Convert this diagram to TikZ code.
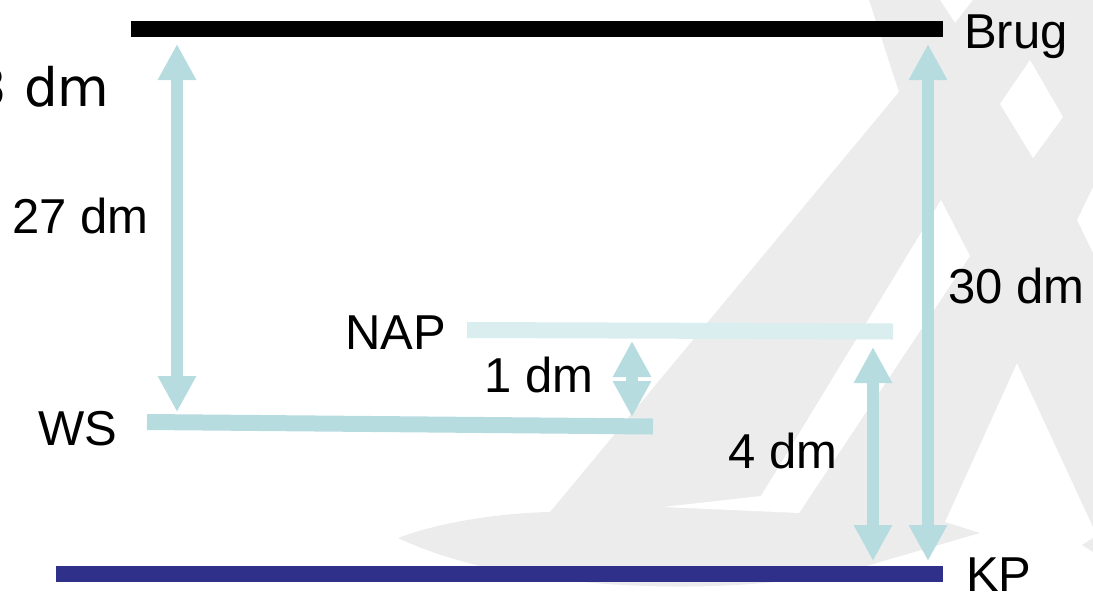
\documentclass[tikz,border=0pt]{standalone}
\usepackage{fontspec}
\setmainfont{Liberation Sans}
\newfontfamily\verafont{DejaVu Sans}
\usetikzlibrary{arrows.meta}
\definecolor{wmgray}{RGB}{236,236,236}
\definecolor{aqua}{RGB}{183,220,224}
\definecolor{aqualight}{RGB}{218,237,239}
\definecolor{kpblue}{RGB}{46,48,137}
\begin{document}
\begin{tikzpicture}[x=1pt,y=-1pt,
  bar/.style={line width=16pt},
  dimarrow/.style={aqua, line width=12pt,
    {Triangle[width=36pt,length=36pt]}-{Triangle[width=36pt,length=36pt]}},
  lbl/.style={anchor=base west, inner sep=0pt, font=\fontsize{49}{49}\selectfont},
  biglbl/.style={anchor=base west, inner sep=0pt, font=\verafont\fontsize{53}{53}\selectfont}]
\useasboundingbox (0,0) rectangle (1093,592);
\clip (0,0) rectangle (1093,592);
% watermark
\fill[wmgray] (869,0) -- (940,0) -- (955,23) -- (973,0) -- (1093,0) -- (1093,187)
  -- (1077,220) -- (1093,253) -- (1093,527) -- (1017,363) -- (945,522) -- (980,533)
  -- (880,562) .. controls (780,594) and (600,594) .. (480,566)
  .. controls (440,556) and (415,546) .. (398,538)
  .. controls (440,522) and (500,513) .. (550,512) -- (899,92) -- cycle;
\fill[wmgray] (1093,538) -- (1082,545) -- (1093,552) -- cycle;
\fill[white] (1030,60) -- (1000,104) -- (1033,158) -- (1063,117) -- cycle;
\fill[white] (941,200) -- (970,256) -- (799,513) -- (663,507) -- (761,496) -- cycle;
% bars
\coordinate (brugL) at (131,29);
\coordinate (brugR) at (943,29);
\coordinate (kpL) at (56,574);
\coordinate (kpR) at (943,574);
\coordinate (wsL) at (147,422);
\coordinate (wsR) at (653,426.5);
\coordinate (napL) at (467,330);
\coordinate (napR) at (893,331.5);
\draw[bar, black] (brugL) -- (brugR);
\draw[bar, kpblue] (kpL) -- (kpR);
\draw[bar, aqua] (wsL) -- (wsR);
\draw[bar, aqualight] (napL) -- (napR);
% arrows
\coordinate (a27t) at (177,44);
\coordinate (a27b) at (177,412);
\coordinate (a30t) at (928,44);
\coordinate (a30b) at (928,561);
\coordinate (a4t) at (873,347);
\coordinate (a4b) at (873,561);
\coordinate (a1t) at (632,341);
\coordinate (a1b) at (632,417);
\draw[dimarrow] (a27t) -- (a27b);
\draw[dimarrow] (a30t) -- (a30b);
\draw[dimarrow] (a4t) -- (a4b);
\draw[dimarrow] (a1t) -- (a1b);
% labels
\node[biglbl] (t3) at (-26.5,106) {3 dm};
\node[lbl] (t27) at (12,233) {27 dm};
\node[lbl] (t30) at (948,303) {30 dm};
\node[lbl] (tnap) at (345,349) {NAP};
\node[lbl] (t1) at (484,392) {1 dm};
\node[lbl] (tws) at (38,445) {WS};
\node[lbl] (t4) at (728,468) {4 dm};
\node[lbl] (tbrug) at (964,48) {Brug};
\node[lbl] (tkp) at (966,591) {KP};
\end{tikzpicture}
\end{document}
